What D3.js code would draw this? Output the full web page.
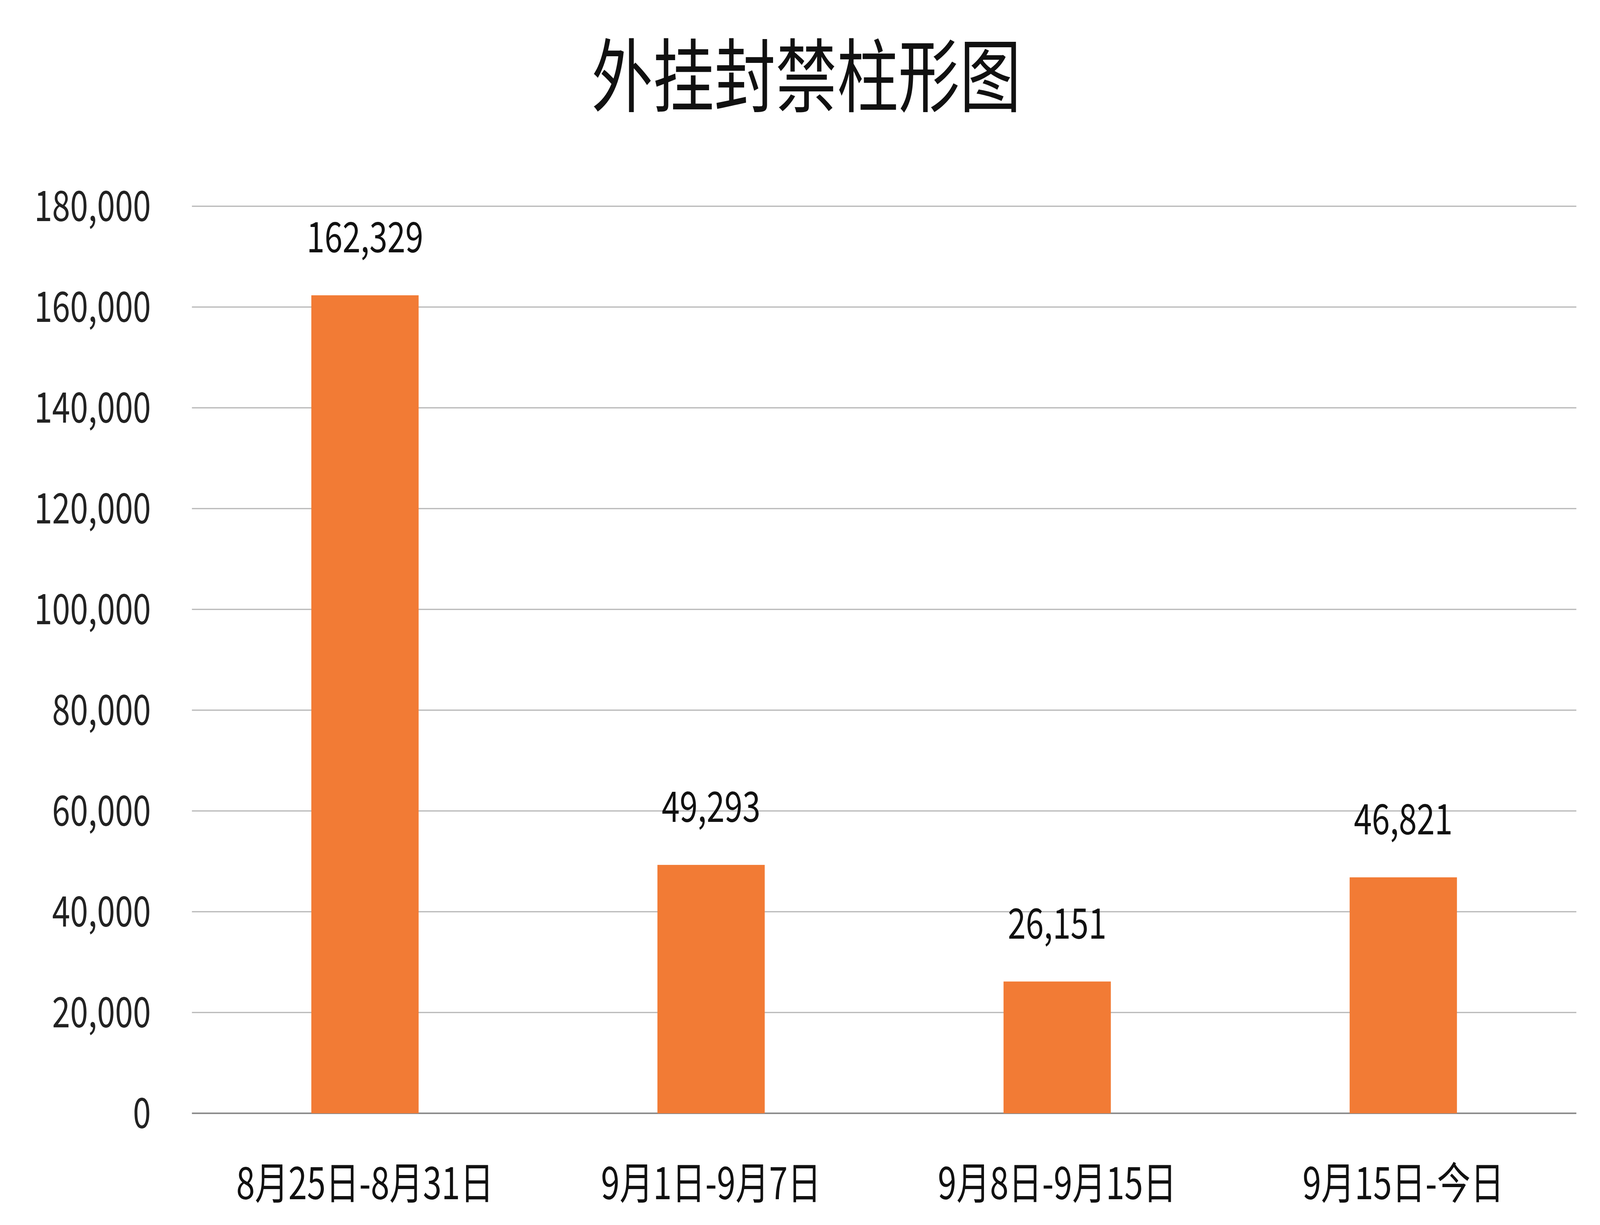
<!DOCTYPE html>
<html><head><meta charset="utf-8">
<script src="https://cdn.jsdelivr.net/npm/d3@7"></script>
<style>html,body{margin:0;background:#fff;overflow:hidden}svg{display:block;width:100vw;height:100vh}</style>
</head><body>
<script>
const categories = ["8月25日-8月31日", "9月1日-9月7日", "9月8日-9月15日", "9月15日-今日"];
const values = [162329, 49293, 26151, 46821];
const yTicks = [0, 20000, 40000, 60000, 80000, 100000, 120000, 140000, 160000, 180000];
const title = "外挂封禁柱形图";

const W = 5344, H = 3136;
const m = {left: 641, right: 79, top: 528, bottom: 286};
const font = "'Noto Sans CJK SC', 'Noto Sans', sans-serif";

const svg = d3.select("body").append("svg").attr("viewBox", `0 0 ${W} ${H}`)
  .attr("preserveAspectRatio", "none")
  .style("font-family", font);

const x = d3.scaleBand().domain(categories).range([m.left, W - m.right]).paddingInner(0.69).paddingOuter(0.345);
const y = d3.scaleLinear().domain([0, 180000]).range([H - m.bottom, m.top]);

// gridlines
svg.append("g").selectAll("line").data(yTicks).join("line")
  .attr("x1", m.left).attr("x2", W - m.right)
  .attr("y1", d => y(d)).attr("y2", d => y(d))
  .attr("stroke", d => d === 0 ? "#8c8c8c" : "#b5b5b5").attr("stroke-width", d => d === 0 ? 4 : 3);

// y labels
svg.append("g").selectAll("text").data(yTicks).join("text")
  .attr("x", 504).attr("y", d => y(d)).attr("dy", "0.35em")
  .attr("text-anchor", "end").attr("font-size", 108).attr("fill", "#222")
  .text(d3.format(","));

svg.append("g").selectAll("rect").data(values).join("rect")
  .attr("x", (d, i) => x(categories[i])).attr("width", x.bandwidth())
  .attr("y", d => y(d)).attr("height", d => y(0) - y(d))
  .attr("fill", "#f27b35");

svg.append("g").selectAll("text").data(values).join("text")
  .attr("x", (d, i) => x(categories[i]) + x.bandwidth() / 2)
  .attr("y", d => y(d) - 110)
  .attr("text-anchor", "middle").attr("font-size", 108).attr("fill", "#111")
  .text(d3.format(","));

svg.append("g").selectAll("text").data(categories).join("text")
  .attr("x", d => x(d) + x.bandwidth() / 2).attr("y", 3070)
  .attr("text-anchor", "middle").attr("font-size", 112).attr("fill", "#111")
  .text(d => d);

svg.append("text").attr("x", 2693).attr("y", 270).attr("text-anchor", "middle")
  .attr("font-size", 205).attr("fill", "#111").text(title);
</script>
</body></html>
